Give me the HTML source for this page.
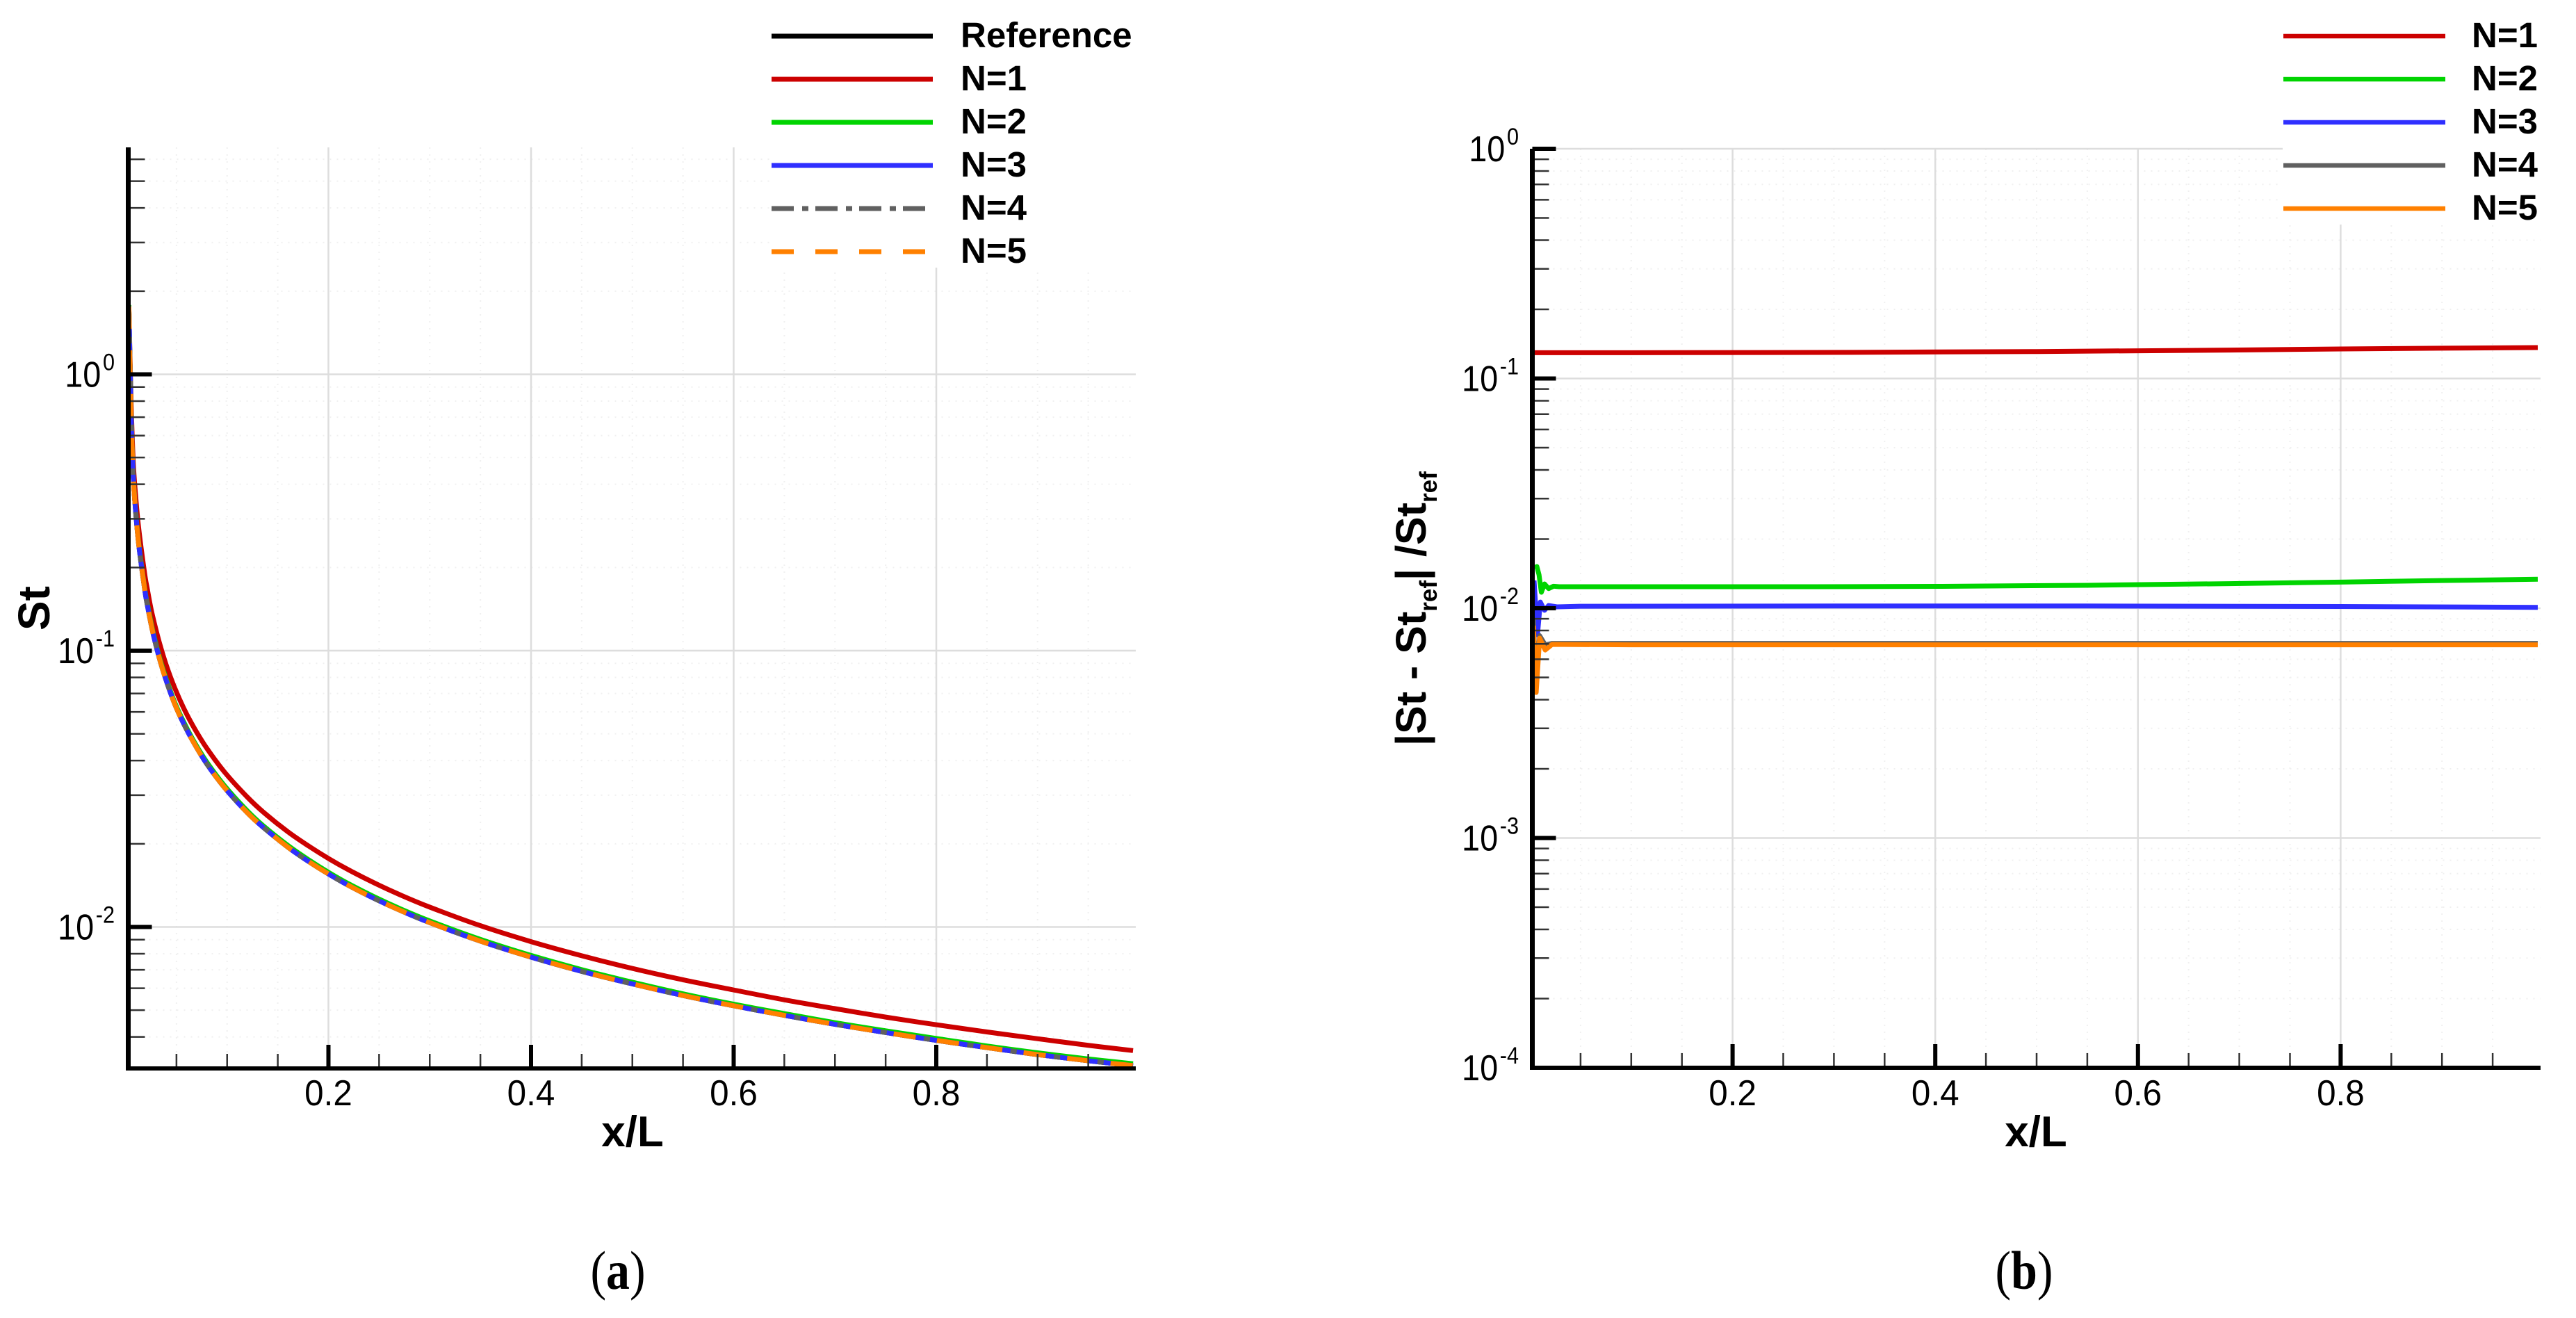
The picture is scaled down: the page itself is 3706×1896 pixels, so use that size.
<!DOCTYPE html>
<html lang="en">
<head>
<meta charset="utf-8">
<title>Stanton number comparison</title>
<style>
html,body{margin:0;padding:0;background:#fff;width:3706px;height:1896px;overflow:hidden}
svg{position:absolute;left:0;top:0;display:block}
text{font-family:"Liberation Sans",sans-serif;fill:#000}
.leg{font-size:51px;font-weight:bold}
.ttl{font-size:62px;font-weight:bold}
.cap{font-family:"Liberation Serif",serif;font-size:78px}
</style>
</head>
<body>
<svg id="figure" xmlns="http://www.w3.org/2000/svg" width="3706" height="1896" viewBox="0 0 3706 1896">
  <rect x="0" y="0" width="3706" height="1896" fill="#fff"/>
  <g id="panel-a"></g>
  <g id="panel-b"></g>

  <g>
    <g><line x1="1110" x2="1342" y1="52" y2="52" stroke="#000" stroke-width="7"/><text class="leg" x="1382" y="68">Reference</text></g>
    <g><line x1="1110" x2="1342" y1="114" y2="114" stroke="#cc0000" stroke-width="7"/><text class="leg" x="1382" y="130">N=1</text></g>
    <g><line x1="1110" x2="1342" y1="176" y2="176" stroke="#00d400" stroke-width="7"/><text class="leg" x="1382" y="192">N=2</text></g>
    <g><line x1="1110" x2="1342" y1="238" y2="238" stroke="#2f2fff" stroke-width="7"/><text class="leg" x="1382" y="254">N=3</text></g>
    <g><line x1="1110" x2="1333" y1="300" y2="300" stroke="#606060" stroke-width="7" stroke-dasharray="32 12 9 10"/><text class="leg" x="1382" y="316">N=4</text></g>
    <g><line x1="1110" x2="1333" y1="362" y2="362" stroke="#ff8000" stroke-width="7" stroke-dasharray="32 31"/><text class="leg" x="1382" y="378">N=5</text></g>
  </g>
  <g>
    <g><line x1="3285" x2="3518" y1="52" y2="52" stroke="#cc0000" stroke-width="6.5"/><text class="leg" x="3556" y="68">N=1</text></g>
    <g><line x1="3285" x2="3518" y1="114" y2="114" stroke="#00d400" stroke-width="6.5"/><text class="leg" x="3556" y="130">N=2</text></g>
    <g><line x1="3285" x2="3518" y1="176" y2="176" stroke="#2f2fff" stroke-width="6.5"/><text class="leg" x="3556" y="192">N=3</text></g>
    <g><line x1="3285" x2="3518" y1="238" y2="238" stroke="#606060" stroke-width="6.5"/><text class="leg" x="3556" y="254">N=4</text></g>
    <g><line x1="3285" x2="3518" y1="300" y2="300" stroke="#ff8000" stroke-width="6.5"/><text class="leg" x="3556" y="316">N=5</text></g>
  </g>

  <text class="ttl" x="910" y="1649" text-anchor="middle">x/L</text>
  <text class="ttl" x="2929" y="1649" text-anchor="middle">x/L</text>
  <text class="ttl" transform="translate(71,875) rotate(-90)" text-anchor="middle" style="font-size:64px">St</text>
  <text class="ttl" transform="translate(2051,1073) rotate(-90)" style="font-size:61px">|St - St<tspan dy="16" style="font-size:35px">ref</tspan><tspan dy="-16">| /St</tspan><tspan dy="16" style="font-size:35px">ref</tspan></text>
  <text class="cap" transform="translate(889,1854) scale(0.87,1)" text-anchor="middle">(<tspan font-weight="bold">a</tspan>)</text>
  <text class="cap" transform="translate(2912,1854) scale(0.87,1)" text-anchor="middle">(<tspan font-weight="bold">b</tspan>)</text>
</svg>

<script>
/* ---------- chart data: panel (a), St against x/L ---------- */
const stX = [0.0030,0.0040,0.0052,0.0073,0.0100,0.0130,0.0187,0.021,0.0245,0.028,0.0336,0.04,0.0485,0.058,0.0679,0.08,0.0976,0.12,0.1365,0.16,0.18,0.2005,0.22,0.2452,0.27,0.30,0.35,0.40,0.45,0.4979,0.55,0.5996,0.65,0.6992,0.75,0.7998,0.85,0.8958,0.95,0.9942];
const stReference = [1.76,1.15,0.72,0.43,0.31,0.238,0.166,0.148,0.127,0.111,0.0925,0.0777,0.0638,0.0536,0.0459,0.0389,0.0319,0.0259,0.0228,0.01945,0.0173,0.01552,0.01413,0.01268,0.01152,0.01037,0.00889,0.00778,0.00691,0.00625,0.00565,0.00519,0.00479,0.00445,0.00415,0.00389,0.00366,0.00347,0.00328,0.00315];
const stN1 = [1.78,1.22,0.80,0.485,0.353,0.272,0.189,0.169,0.144,0.1265,0.1055,0.0885,0.0730,0.0610,0.0522,0.0443,0.0363,0.0295,0.0259,0.0221,0.01968,0.01766,0.01609,0.01444,0.01311,0.0118,0.01011,0.00885,0.00787,0.00711,0.00644,0.00592,0.00545,0.00507,0.00472,0.00443,0.00417,0.00396,0.00373,0.00357];
const stN2 = [1.78,1.17,0.73,0.436,0.314,0.241,0.168,0.150,0.129,0.1125,0.0938,0.0788,0.0647,0.0544,0.0465,0.0395,0.0324,0.0263,0.0231,0.01973,0.01755,0.01574,0.01433,0.01286,0.01168,0.01052,0.00902,0.00789,0.00701,0.00634,0.00573,0.00526,0.00486,0.00451,0.00421,0.00395,0.00371,0.00352,0.00333,0.00320];
const stN3 = [1.76,1.15,0.72,0.43,0.31,0.238,0.166,0.148,0.127,0.111,0.0925,0.0777,0.0638,0.0536,0.0459,0.0389,0.0319,0.0259,0.0228,0.01945,0.0173,0.01552,0.01413,0.01268,0.01152,0.01037,0.00889,0.00778,0.00691,0.00625,0.00565,0.00519,0.00479,0.00445,0.00415,0.00389,0.00366,0.00347,0.00328,0.00315];
const stN4 = [1.76,1.15,0.72,0.43,0.31,0.238,0.166,0.148,0.127,0.111,0.0925,0.0777,0.0638,0.0536,0.0459,0.0389,0.0319,0.0259,0.0228,0.01945,0.0173,0.01552,0.01413,0.01268,0.01152,0.01037,0.00889,0.00778,0.00691,0.00625,0.00565,0.00519,0.00479,0.00445,0.00415,0.00389,0.00366,0.00347,0.00328,0.00315];
const stN5 = [1.76,1.15,0.72,0.43,0.31,0.238,0.166,0.148,0.127,0.111,0.0925,0.0777,0.0638,0.0536,0.0459,0.0389,0.0319,0.0259,0.0228,0.01945,0.0173,0.01552,0.01413,0.01268,0.01152,0.01037,0.00889,0.00778,0.00691,0.00625,0.00565,0.00519,0.00479,0.00445,0.00415,0.00389,0.00366,0.00347,0.00328,0.00315];

/* ---------- chart data: panel (b), relative error against x/L ---------- */
const errN1X = [0.0040,0.10,0.28,0.50,0.69,0.80,0.90,0.9945];
const errN1 = [0.1295,0.1295,0.1298,0.1310,0.1330,0.1345,0.1355,0.1364];
const errN2X = [0.0045,0.0069,0.0090,0.0113,0.0144,0.0185,0.0233,0.0288,0.05,0.28,0.40,0.55,0.69,0.80,0.90,0.9945];
const errN2 = [0.0150,0.01519,0.0140,0.01174,0.01276,0.01218,0.01247,0.01241,0.01241,0.01241,0.01245,0.01259,0.0128,0.0130,0.0132,0.01337];
const errN3X = [0.0041,0.0075,0.0103,0.0144,0.0185,0.0267,0.05,0.30,0.55,0.80,0.9945];
const errN3 = [0.01321,0.00767,0.01064,0.0098,0.01028,0.01014,0.0102,0.01023,0.01023,0.01018,0.01009];
const errN4X = [0.0034,0.0062,0.0096,0.0151,0.0219,0.10,0.40,0.70,0.9945];
const errN4 = [0.0090,0.0046,0.0076,0.00693,0.00703,0.00703,0.00703,0.00703,0.00703];
const errN5X = [0.0034,0.0062,0.0096,0.0151,0.0219,0.10,0.40,0.70,0.9945];
const errN5 = [0.0084,0.0043,0.00741,0.00658,0.00696,0.00693,0.00693,0.00693,0.00693];

/* ---------- tick labels and tick values ---------- */
const xMajorTicks = [0.2,0.4,0.6,0.8];
const xMajorLabels = ["0.2","0.4","0.6","0.8"];
const xMinorTicks = [0.05,0.1,0.15,0.25,0.3,0.35,0.45,0.5,0.55,0.65,0.7,0.75,0.85,0.9,0.95];
const yExponentsA = [0,-1,-2];
const yExponentsB = [0,-1,-2,-3,-4];
const minorMultipliers = [2,3,4,5,6,7,8,9];

const SVGNS = "http://www.w3.org/2000/svg";

function shape(tag, parent, attrs){
  const el = document.createElementNS(SVGNS, tag);
  for (const k in attrs) el.setAttribute(k, attrs[k]);
  parent.appendChild(el);
  return el;
}

function smoothPath(pts){
  let d = "M" + pts[0][0].toFixed(2) + " " + pts[0][1].toFixed(2);
  for (let i = 0; i < pts.length - 1; i++){
    const p0 = pts[Math.max(i - 1, 0)], p1 = pts[i], p2 = pts[i + 1], p3 = pts[Math.min(i + 2, pts.length - 1)];
    const c1x = p1[0] + (p2[0] - p0[0]) / 6, c1y = p1[1] + (p2[1] - p0[1]) / 6;
    const c2x = p2[0] - (p3[0] - p1[0]) / 6, c2y = p2[1] - (p3[1] - p1[1]) / 6;
    d += "C" + c1x.toFixed(2) + " " + c1y.toFixed(2) + " " + c2x.toFixed(2) + " " + c2y.toFixed(2) + " " + p2[0].toFixed(2) + " " + p2[1].toFixed(2);
  }
  return d;
}

function linePath(pts){
  return pts.map(function(p, i){ return (i ? "L" : "M") + p[0].toFixed(2) + " " + p[1].toFixed(2); }).join("");
}

function drawAxes(root, cfg){
  const xPx = function(v){ return cfg.x0 + cfg.xUnit * v; };
  const yPx = function(v){ return cfg.yOne - cfg.decade * Math.log10(v); };
  const inY = function(v){ const y = yPx(v); return y > cfg.top + 1 && y < cfg.bottom - 1; };

  const grid = shape("g", root, {});
  
  

  /* minor dotted grid */
  xMinorTicks.forEach(function(v){
    const g = shape("line", grid, {x1:xPx(v), x2:xPx(v), y1:cfg.top, y2:cfg.bottom, stroke:"#f0f0f0", "stroke-width":2, "stroke-dasharray":"2 8"});
    
    
  });
  cfg.exps.forEach(function(e){
    minorMultipliers.forEach(function(m){
      const v = m * Math.pow(10, e - 1);
      if (!inY(v)) return;
      const g = shape("line", grid, {x1:cfg.left, x2:cfg.right, y1:yPx(v), y2:yPx(v), stroke:"#f0f0f0", "stroke-width":2, "stroke-dasharray":"2 8"});
      
      
    });
  });
  cfg.topMinor.forEach(function(m){
    const v = m;
    if (!inY(v)) return;
    const g = shape("line", grid, {x1:cfg.left, x2:cfg.right, y1:yPx(v), y2:yPx(v), stroke:"#f0f0f0", "stroke-width":2, "stroke-dasharray":"2 8"});
    
    
  });

  /* major grid */
  xMajorTicks.forEach(function(v){
    const g = shape("line", grid, {x1:xPx(v), x2:xPx(v), y1:cfg.top, y2:cfg.bottom, stroke:"#dddddd", "stroke-width":2.5});
    
    
  });
  cfg.exps.forEach(function(e){
    const y = yPx(Math.pow(10, e));
    const g = shape("line", grid, {x1:cfg.left, x2:cfg.right, y1:y, y2:y, stroke:"#dddddd", "stroke-width":2.5});
    
    
  });

  /* white legend backing hides the grid */
  const cover = shape("rect", root, {x:cfg.legendX, y:0, width:cfg.legendW, height:cfg.legendH, fill:"#fff"});
  
  

  return {xPx:xPx, yPx:yPx, inY:inY};
}

function drawFrame(root, cfg, s){
  const frame = shape("g", root, {});
  
  

  xMinorTicks.forEach(function(v){
    const t = shape("line", frame, {x1:s.xPx(v), x2:s.xPx(v), y1:cfg.bottom, y2:cfg.bottom - 21, stroke:"#333", "stroke-width":2.5});
    
    
  });
  xMajorTicks.forEach(function(v, i){
    const t = shape("line", frame, {x1:s.xPx(v), x2:s.xPx(v), y1:cfg.bottom, y2:cfg.bottom - 34, stroke:"#000", "stroke-width":6});
    
    
    const l = shape("text", frame, {transform:"translate(" + s.xPx(v) + ",1590) scale(0.95,1)", "text-anchor":"middle", "font-size":52});
    l.textContent = xMajorLabels[i];
    
    
  });

  const minorYs = [];
  cfg.exps.forEach(function(e){
    minorMultipliers.forEach(function(m){ minorYs.push(m * Math.pow(10, e - 1)); });
  });
  cfg.topMinor.forEach(function(m){ minorYs.push(m); });
  minorYs.forEach(function(v){
    if (!s.inY(v)) return;
    const t = shape("line", frame, {x1:cfg.left, x2:cfg.left + 24, y1:s.yPx(v), y2:s.yPx(v), stroke:"#333", "stroke-width":2.5});
    
    
  });

  cfg.exps.forEach(function(e){
    const y = s.yPx(Math.pow(10, e));
    const t = shape("line", frame, {x1:cfg.left, x2:cfg.left + 34, y1:y, y2:y, stroke:"#000", "stroke-width":6});
    
    
    const l = shape("text", frame, {transform:"translate(" + cfg.labelEnd + "," + (y + 18) + ") scale(0.9,1)", "text-anchor":"end", "font-size":52});
    
    
    l.appendChild(document.createTextNode("10"));
    const sup = shape("tspan", l, {dy:-24, dx:3, "font-size":34});
    sup.textContent = String(e);
  });

  const yAxis = shape("line", frame, {x1:cfg.left, x2:cfg.left, y1:cfg.top, y2:cfg.bottom + 3, stroke:"#000", "stroke-width":7});
  
  
  const xAxis = shape("line", frame, {x1:cfg.left - 3, x2:cfg.right, y1:cfg.bottom, y2:cfg.bottom, stroke:"#000", "stroke-width":6});
  
  
}

/* ---------- panel (a) ---------- */
const panelA = document.getElementById("panel-a");
const cfgA = {x0:181, xUnit:1457.5, yOne:538.5, decade:397.5, top:212, bottom:1537, left:184.5, right:1634, exps:yExponentsA, topMinor:[2,3,4,5,6], legendX:1108, legendW:540, legendH:385, labelEnd:165};
const scaleA = drawAxes(panelA, cfgA);

function stPoints(values){
  return stX.map(function(x, i){ return [scaleA.xPx(x), scaleA.yPx(values[i])]; });
}
const seriesA = shape("g", panelA, {fill:"none", "stroke-linejoin":"round"});



const curveRef = shape("path", seriesA, {d:smoothPath(stPoints(stReference)), stroke:"#000", "stroke-width":7});


const curveN1 = shape("path", seriesA, {d:smoothPath(stPoints(stN1)), stroke:"#cc0000", "stroke-width":7});


const curveN2 = shape("path", seriesA, {d:smoothPath(stPoints(stN2)), stroke:"#00d400", "stroke-width":7});


const curveN3 = shape("path", seriesA, {d:smoothPath(stPoints(stN3)), stroke:"#2f2fff", "stroke-width":7});


const curveN4 = shape("path", seriesA, {d:smoothPath(stPoints(stN4)), stroke:"#606060", "stroke-width":7, "stroke-dasharray":"32 12 9 10"});


const curveN5 = shape("path", seriesA, {d:smoothPath(stPoints(stN5)), stroke:"#ff8000", "stroke-width":7, "stroke-dasharray":"32 31"});



drawFrame(panelA, cfgA, scaleA);

/* ---------- panel (b) ---------- */
const panelB = document.getElementById("panel-b");
const cfgB = {x0:2201, xUnit:1458, yOne:214, decade:330.5, top:214, bottom:1536, left:2204.5, right:3655, exps:yExponentsB, topMinor:[], legendX:3284, legendW:372, legendH:323, labelEnd:2185};
const scaleB = drawAxes(panelB, cfgB);

function errPoints(xs, values){
  return xs.map(function(x, i){ return [scaleB.xPx(x), scaleB.yPx(values[i])]; });
}
const seriesB = shape("g", panelB, {fill:"none", "stroke-linejoin":"round"});



const errLine1 = shape("path", seriesB, {d:linePath(errPoints(errN1X, errN1)), stroke:"#cc0000", "stroke-width":7});


const errLine2 = shape("path", seriesB, {d:linePath(errPoints(errN2X, errN2)), stroke:"#00d400", "stroke-width":7});


const errLine3 = shape("path", seriesB, {d:linePath(errPoints(errN3X, errN3)), stroke:"#2f2fff", "stroke-width":7});


const errLine4 = shape("path", seriesB, {d:linePath(errPoints(errN4X, errN4)), stroke:"#606060", "stroke-width":7});


const errLine5 = shape("path", seriesB, {d:linePath(errPoints(errN5X, errN5)), stroke:"#ff8000", "stroke-width":7});



drawFrame(panelB, cfgB, scaleB);
</script>
</body>
</html>
